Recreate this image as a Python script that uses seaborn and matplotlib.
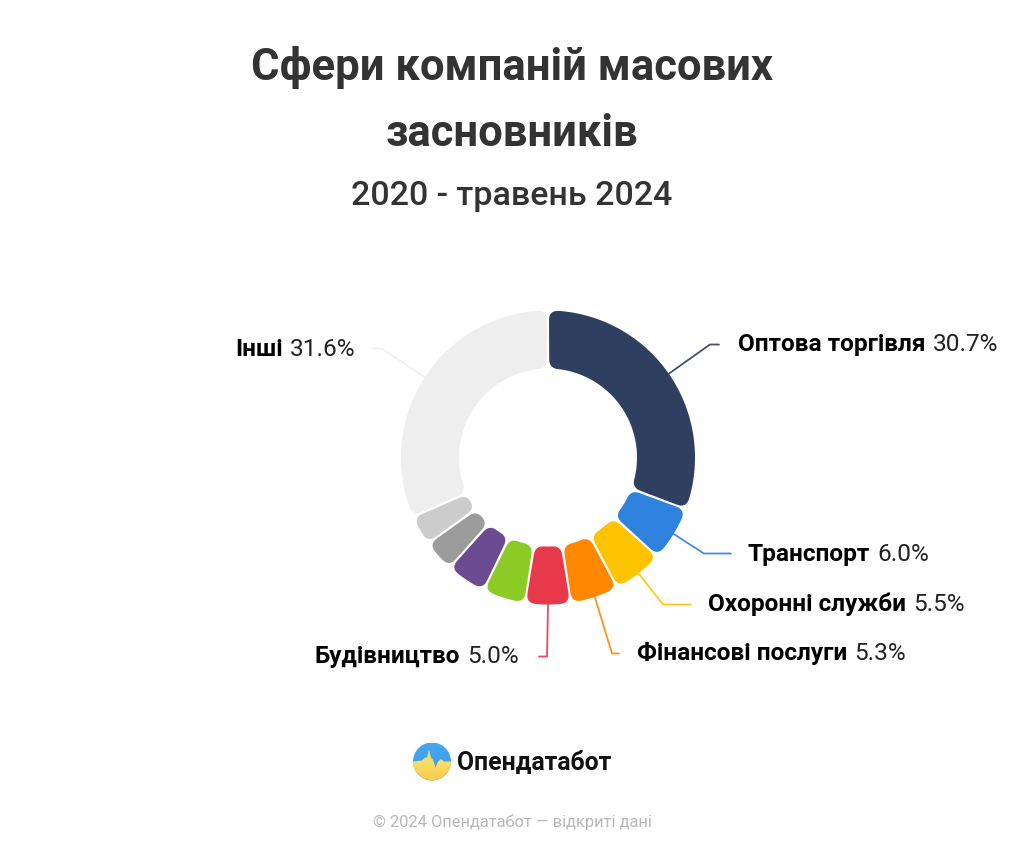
import numpy as np
import pandas as pd
import matplotlib
matplotlib.use("Agg")
import matplotlib.pyplot as plt
from matplotlib.colors import LinearSegmentedColormap
from matplotlib.patches import Circle, Polygon
import seaborn as sns

# Shares of founders' companies by sector
sectors = ["Оптова торгівля", "Транспорт", "Охоронні служби", "Фінансові послуги",
           "Будівництво", "Сфера 6", "Сфера 7", "Сфера 8", "Сфера 9", "Інші"]
shares = [30.7, 6.0, 5.5, 5.3, 5.0, 4.7, 4.4, 3.5, 3.3, 31.6]
colors = ["#2F3F5F", "#2E82DD", "#FFC300", "#FF8800", "#E8394A",
          "#8CCB26", "#6A4C93", "#9B9B9B", "#CCCCCC", "#EEEEEE"]
title_lines = ["Сфери компаній масових", "засновників"]
subtitle = "2020 - травень 2024"
brand = "Опендатабот"
footer = "© 2024 Опендатабот — відкриті дані"

df = pd.DataFrame({"sector": sectors, "share": shares, "color": colors})

sns.set_theme(style="white")
plt.rcParams["font.family"] = ["Roboto", "Open Sans", "DejaVu Sans"]

W, H = 1024, 853
fig = plt.figure(figsize=(W / 100, H / 100), dpi=100, facecolor="white")
ax = fig.add_axes([0, 0, 1, 1])


def py(y):
    """Convert a distance from the top edge into the axes' y coordinate."""
    return H - y - 1.5


CX, CY, R_OUT, R_IN = 548, py(457), 147, 89


def rounded_sector(t1, t2, r_in, r_out, corner=9.5, gap=1.1):
    """Annular sector outline with rounded corners; angles in degrees."""
    def pt(r, t_deg):
        t = np.radians(t_deg)
        return np.array([CX + r * np.cos(t), CY + r * np.sin(t)])

    def bez(a, c, b, n=10):
        s = np.linspace(0, 1, n)[:, None]
        return (1 - s) ** 2 * a + 2 * s * (1 - s) * c + s ** 2 * b

    def offset(r):
        return np.degrees(gap / r)

    lo_o, hi_o = t1 + offset(R_OUT), t2 - offset(R_OUT)
    lo_i, hi_i = t1 + offset(R_IN), t2 - offset(R_IN)
    d_o, d_i = np.degrees(corner / r_out), np.degrees(corner / r_in)
    outer = [pt(r_out, t) for t in np.linspace(hi_o - d_o, lo_o + d_o, 90)]
    inner = [pt(r_in, t) for t in np.linspace(lo_i + d_i, hi_i - d_i, 90)]
    path = []
    path.extend(bez(pt(r_out - corner, hi_o), pt(r_out, hi_o), pt(r_out, hi_o - d_o)))
    path.extend(outer)
    path.extend(bez(pt(r_out, lo_o + d_o), pt(r_out, lo_o), pt(r_out - corner, lo_o)))
    path.extend(bez(pt(r_in + corner, lo_i), pt(r_in, lo_i), pt(r_in, lo_i + d_i)))
    path.extend(inner)
    path.extend(bez(pt(r_in, hi_i - d_i), pt(r_in, hi_i), pt(r_in + corner, hi_i)))
    return np.array(path)


# Let pie compute the slice angles, then redraw each slice with soft corners
wedges, _ = ax.pie(df["share"], startangle=90, counterclock=False, center=(CX, CY),
                   radius=R_OUT, wedgeprops={"width": R_OUT - R_IN})
for w, c in zip(wedges, df["color"]):
    t1, t2 = w.theta1, w.theta2
    w.set_visible(False)
    ax.add_patch(Polygon(rounded_sector(t1, t2, R_IN, R_OUT), closed=True,
                         facecolor=c, edgecolor="none", zorder=2))

ax.set_xlim(0, W)
ax.set_ylim(0, H)
ax.set_aspect("equal")
ax.axis("off")

LABEL_PT = 17.6

# Leader lines and labels for the annotated slices
callouts = {
    "Оптова торгівля": ((710, 344), (719, 344), (738, 343), "left"),
    "Транспорт": ((704, 553), (731, 553), (748, 553), "left"),
    "Охоронні служби": ((663, 604), (691, 604), (708, 603), "left"),
    "Фінансові послуги": ((612, 653), (619, 653), (637, 652), "left"),
    "Будівництво": ((547, 656), (539, 656), (519, 655), "right"),
    "Інші": ((382, 348), (373, 348), (355, 348), "right"),
}
share_by_sector = dict(zip(sectors, shares))
fig.canvas.draw()
rend = fig.canvas.get_renderer()
for w, c, name in zip(wedges, df["color"], df["sector"]):
    if name not in callouts:
        continue
    mid = np.radians((w.theta1 + w.theta2) / 2)
    start = (CX + R_OUT * np.cos(mid), CY + R_OUT * np.sin(mid))
    elbow, end, txt, ha = callouts[name]
    ax.plot([start[0], elbow[0], end[0]], [start[1], py(elbow[1]), py(end[1])],
            color=c, lw=1.3, alpha=0.9, zorder=1, solid_joinstyle="miter")
    label = ax.text(txt[0], py(txt[1]), name, fontsize=LABEL_PT, fontweight="bold",
                    color="black", ha="left", va="center")
    value = ax.text(0, py(txt[1]), f"{share_by_sector[name]:.1f}%", fontsize=LABEL_PT,
                    color="#222222", va="center", ha="left")
    name_w = label.get_window_extent(rend).width + 7
    val_w = value.get_window_extent(rend).width
    x0 = txt[0] if ha == "left" else txt[0] - name_w - val_w
    label.set_x(x0)
    value.set_x(x0 + name_w)

# Heading
for y, line in zip([66, 132], title_lines):
    ax.text(512, py(y), line, fontsize=31.4, fontweight="bold", color="#333333",
            ha="center", va="center")
ax.text(512, py(195), subtitle, fontsize=24.5, fontweight="medium", color="#333333",
        ha="center", va="center")

# Brand mark: blue upper half, yellow lower half cut along a pulse trace
LOGO_X, LOGO_Y, LOGO_R = 432, py(761), 19
LOGO_BOX = (LOGO_X - LOGO_R, LOGO_X + LOGO_R, LOGO_Y - LOGO_R, LOGO_Y + LOGO_R)
blue_cmap = LinearSegmentedColormap.from_list("sky", ["#45A5EE", "#3D9CEB"])
yellow_cmap = LinearSegmentedColormap.from_list("sun", ["#F7D45C", "#FBDD6C", "#F9C945"])
grad = np.linspace(0, 1, 128)[:, None]
sky = ax.imshow(grad, cmap=blue_cmap, extent=LOGO_BOX, origin="upper", aspect="auto", zorder=3)
sky.set_clip_path(Circle((LOGO_X, LOGO_Y), LOGO_R, transform=ax.transData))
pulse_x = [413, 422, 425, 427, 429, 431, 433, 435.5, 437.5, 440, 441.5, 444, 451]
pulse_y = [761, 760, 757, 757, 749, 757, 759, 767, 762, 759, 759, 761, 761]
arc = np.radians(np.linspace(0, -180, 60))
lower_half = np.column_stack([LOGO_X + LOGO_R * np.cos(arc), LOGO_Y + LOGO_R * np.sin(arc)])
trace_xy = np.column_stack([pulse_x, [py(v) for v in pulse_y]])
sun = ax.imshow(grad, cmap=yellow_cmap, extent=LOGO_BOX, origin="upper", aspect="auto", zorder=4)
trace = Polygon(np.vstack([trace_xy, lower_half]), closed=True, transform=ax.transData,
                facecolor="none", edgecolor="none")
ax.add_patch(trace)
sun.set_clip_path(trace)
ax.set_xlim(0, W)
ax.set_ylim(0, H)
ax.text(457, py(761), brand, fontsize=17.8, fontweight="bold", color="#111111",
        ha="left", va="center")
ax.text(512, py(821), footer, fontsize=11.75, color="#B8B8B8", ha="center", va="center")

fig.savefig("out.png", dpi=100, facecolor="white")
